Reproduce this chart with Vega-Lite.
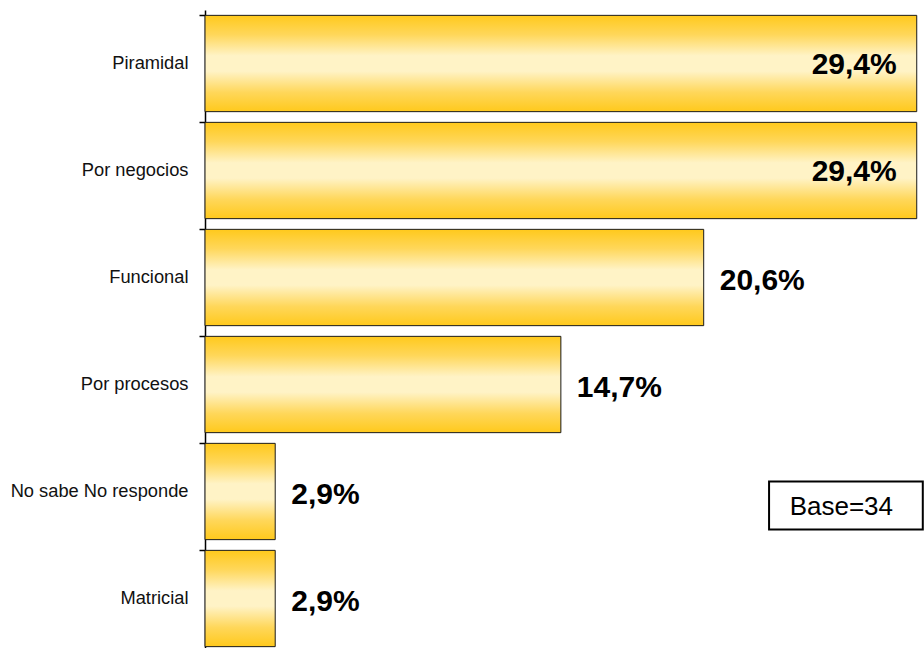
{
  "$schema": "https://vega.github.io/schema/vega-lite/v6.json",
  "width": 719,
  "height": 642,
  "autosize": {"type": "none"},
  "padding": {"left": 205, "top": 10, "right": 0, "bottom": 0},
  "background": "white",
  "config": {"view": {"stroke": null}, "font": "Liberation Sans"},
  "datasets": {
    "bars": [
      {"cat": "Piramidal", "value": 29.4, "label": "29,4%"},
      {"cat": "Por negocios", "value": 29.4, "label": "29,4%"},
      {"cat": "Funcional", "value": 20.6, "label": "20,6%"},
      {"cat": "Por procesos", "value": 14.7, "label": "14,7%"},
      {"cat": "No sabe No responde", "value": 2.9, "label": "2,9%"},
      {"cat": "Matricial", "value": 2.9, "label": "2,9%"}
    ],
    "note": [
      {"cat": "No sabe No responde", "start": 23.3, "end": 29.65, "textpos": 24.15, "text": "Base=34"}
    ]
  },
  "layer": [
    {
      "data": {"name": "bars"},
      "mark": {
        "type": "bar",
        "stroke": "#1a1a1a",
        "strokeWidth": 1,
        "color": {
          "gradient": "linear",
          "x1": 0, "y1": 0, "x2": 0, "y2": 1,
          "stops": [
            {"offset": 0, "color": "#FFC91C"},
            {"offset": 0.2, "color": "#FFD75A"},
            {"offset": 0.42, "color": "#FFF3C6"},
            {"offset": 0.58, "color": "#FFF3C6"},
            {"offset": 0.8, "color": "#FFD75A"},
            {"offset": 1, "color": "#FFC91C"}
          ]
        }
      },
      "encoding": {
        "y": {
          "field": "cat", "type": "nominal", "sort": null,
          "scale": {"paddingInner": 0.1, "paddingOuter": 0.05},
          "axis": {
            "title": null,
            "bandPosition": 0,
            "domainColor": "#000000",
            "domainWidth": 1.5,
            "tickColor": "#000000",
            "tickWidth": 1.5,
            "tickSize": 6,
            "labelFontSize": 18.3,
            "labelColor": "#111111",
            "labelPadding": 11,
            "labelFont": "Liberation Sans"
          }
        },
        "x": {
          "field": "value", "type": "quantitative",
          "scale": {"domain": [0, 29.7], "nice": false, "zero": true},
          "axis": null
        }
      }
    },
    {
      "data": {"name": "bars"},
      "transform": [{"filter": "datum.value > 25"}],
      "mark": {"type": "text", "align": "right", "baseline": "middle", "dx": -20, "dy": 1, "fontSize": 30, "fontWeight": "bold", "font": "Liberation Sans", "color": "#000000"},
      "encoding": {
        "y": {"field": "cat", "type": "nominal", "sort": null},
        "x": {"field": "value", "type": "quantitative"},
        "text": {"field": "label"}
      }
    },
    {
      "data": {"name": "bars"},
      "transform": [{"filter": "datum.value <= 25"}],
      "mark": {"type": "text", "align": "left", "baseline": "middle", "dx": 16, "dy": 3, "fontSize": 30, "fontWeight": "bold", "font": "Liberation Sans", "color": "#000000"},
      "encoding": {
        "y": {"field": "cat", "type": "nominal", "sort": null},
        "x": {"field": "value", "type": "quantitative"},
        "text": {"field": "label"}
      }
    },
    {
      "data": {"name": "note"},
      "mark": {"type": "bar", "height": 48, "yOffset": 14, "fill": "white", "stroke": "#000000", "strokeWidth": 2},
      "encoding": {
        "y": {"field": "cat", "type": "nominal", "sort": null},
        "x": {"field": "start", "type": "quantitative"},
        "x2": {"field": "end"}
      }
    },
    {
      "data": {"name": "note"},
      "mark": {"type": "text", "align": "left", "baseline": "middle", "dy": 15, "fontSize": 26, "font": "Liberation Sans", "color": "#000000"},
      "encoding": {
        "y": {"field": "cat", "type": "nominal", "sort": null},
        "x": {"field": "textpos", "type": "quantitative"},
        "text": {"field": "text"}
      }
    }
  ]
}
